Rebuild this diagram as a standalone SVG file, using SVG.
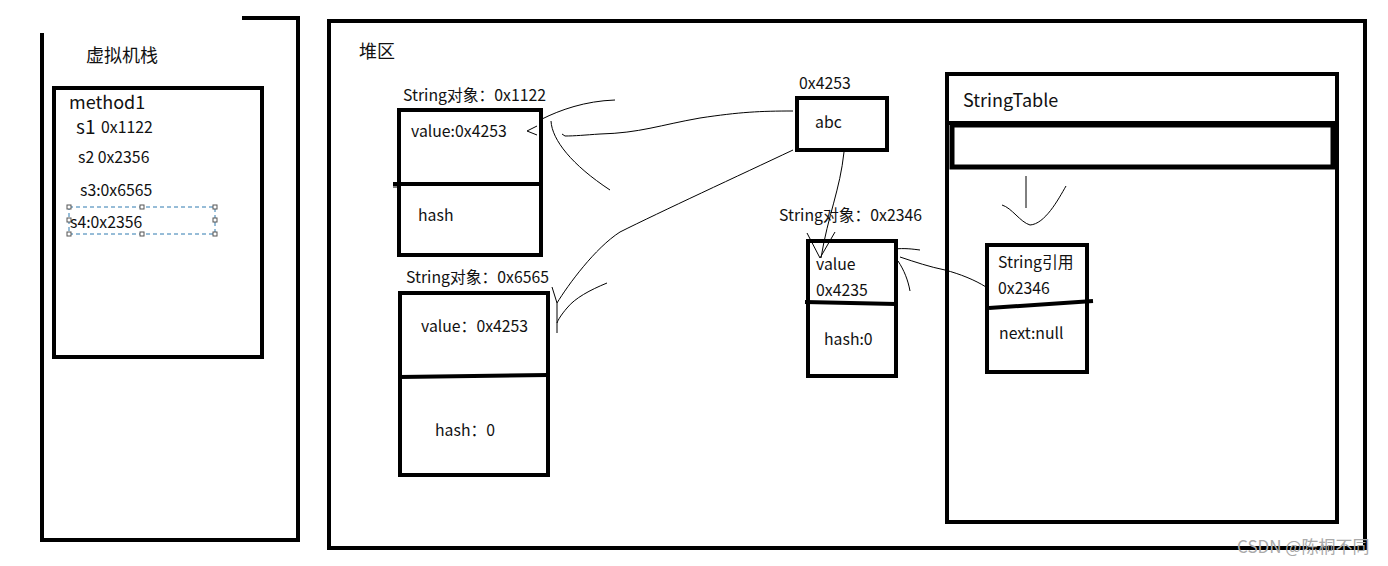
<svg xmlns="http://www.w3.org/2000/svg" width="1388" height="566" viewBox="0 0 1388 566">
<style>
text{font-family:"Noto Sans CJK SC","Noto Sans",sans-serif;fill:#111}
.t14{font-size:15.8px}
.t17{font-size:18px}
.box{fill:none;stroke:#000;stroke-width:4}
.div{stroke:#000;stroke-width:4;fill:none}
.pen{fill:none;stroke:#000;stroke-width:1}
.sel{fill:none;stroke:#2f7bb0;stroke-width:1;stroke-dasharray:4 3}
.h{fill:#fff;stroke:#555;stroke-width:1}
</style>
<rect width="1388" height="566" fill="#fff"/>

<g id="stack">
<path class="div" d="M42,33 V540 H300 M242,18 H298 V540"/>
<text class="t17" x="86" y="62">虚拟机栈</text>
</g>

<g id="method1">
<rect class="box" x="54" y="88" width="208" height="269"/>
<text x="69" y="109" style="font-size:18px">method1</text>
<text x="76" y="134" style="font-size:19px">s1</text>
<text class="t14" x="101" y="133">0x1122</text>
<text class="t14" x="78" y="163">s2 0x2356</text>
<text class="t14" x="80" y="196">s3:0x6565</text>
<rect class="sel" x="69" y="207" width="146" height="27"/>
<g>
<rect class="h" x="67" y="205" width="4" height="4"/><rect class="h" x="140" y="205" width="4" height="4"/><rect class="h" x="213" y="205" width="4" height="4"/>
<rect class="h" x="67" y="218" width="4" height="4"/><rect class="h" x="213" y="218" width="4" height="4"/>
<rect class="h" x="67" y="232" width="4" height="4"/><rect class="h" x="140" y="232" width="4" height="4"/><rect class="h" x="213" y="232" width="4" height="4"/>
</g>
<text class="t14" x="70" y="228">s4:0x2356</text>
</g>

<g id="heap">
<rect class="box" x="329" y="21" width="1036" height="527"/>
<text class="t17" x="359" y="58">堆区</text>
</g>

<g id="obj1122">
<text class="t14" x="403" y="101">String对象：0x1122</text>
<rect class="box" x="399" y="110" width="142" height="145"/>
<path class="div" d="M393,184 H540"/>
<path class="pen" d="M393,187 H400"/>
<text class="t14" x="411" y="137">value:0x4253</text>
<text class="t14" x="418" y="221">hash</text>
</g>

<g id="obj6565">
<text class="t14" x="406" y="283">String对象：0x6565</text>
<rect class="box" x="400" y="293" width="148" height="182"/>
<path class="div" d="M400,377 L548,375"/>
<text class="t14" x="421" y="332">value：0x4253</text>
<text class="t14" x="435" y="436">hash：0</text>
</g>

<g id="abc">
<text class="t14" x="799" y="89">0x4253</text>
<rect class="box" x="797" y="98" width="90" height="52"/>
<text class="t14" x="815" y="128">abc</text>
</g>

<g id="obj2346">
<text class="t14" x="779" y="221">String对象：0x2346</text>
<rect class="box" x="808" y="241" width="88" height="135"/>
<text class="t14" x="816" y="270">value</text>
<text class="t14" x="816" y="296">0x4235</text>
<path class="div" d="M805,302 L896,304"/>
<text class="t14" x="824" y="345">hash:0</text>
</g>

<g id="stringtable">
<rect class="box" x="947" y="74" width="390" height="448"/>
<path class="div" d="M947,123 H1337"/>
<rect x="952" y="125" width="381" height="42" fill="none" stroke="#000" stroke-width="5"/>
<text class="t17" x="963" y="107">StringTable</text>
</g>

<g id="stringref">
<rect class="box" x="987" y="245" width="100" height="127"/>
<text class="t14" x="998" y="268">String引用</text>
<text class="t14" x="998" y="294">0x2346</text>
<path class="div" d="M989,308 L1093,301"/>
<text class="t14" x="999" y="339">next:null</text>
</g>

<g id="connectors">
<path class="pen" d="M793,111 C760,111 740,112 700,118 C660,125 640,133 600,134 C585,135 575,136 565,136 L562,134"/>
<path class="pen" d="M542,119 C560,110 585,101 615,100"/>
<path class="pen" d="M537,126 L527,131 L537,135"/>
<path class="pen" d="M551,121 C552,140 572,165 610,190"/>
<path class="pen" d="M793,150 C740,175 660,212 620,232 C595,248 568,285 557,303 L557,333"/>
<path class="pen" d="M552,287 L557,303"/>
<path class="pen" d="M607,283 C590,290 575,298 567,308 C561,315 558,320 557,323"/>
<path class="pen" d="M844,152 C840,190 828,215 821,258"/>
<path class="pen" d="M807,233 L820,258 L835,232"/>
<path class="pen" d="M900,257 C915,262 930,267 945,270 C960,274 975,280 986,287"/>
<path class="pen" d="M894,249 C905,248 912,249 920,250"/>
<path class="pen" d="M898,261 C904,270 908,280 910,291"/>
<path class="pen" d="M1026,176 V208"/>
<path class="pen" d="M1002,205 C1012,208 1020,222 1030,225 C1045,224 1058,200 1066,186"/>
</g>

<text x="1237" y="553" style="font-size:17px;fill:#aaa">CSDN @陈桐不同</text>
</svg>
